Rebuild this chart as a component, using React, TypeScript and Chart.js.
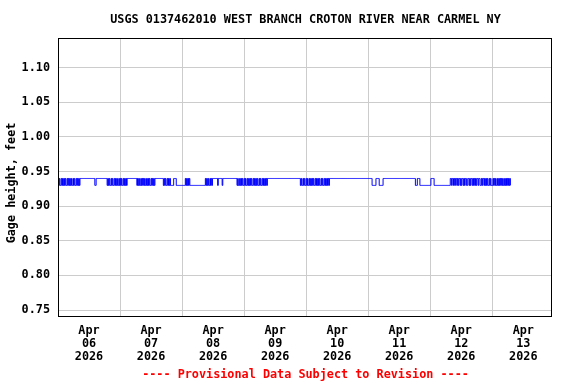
import React, { useEffect, useRef } from 'react';
import { Chart, registerables } from 'chart.js';
Chart.register(...registerables);

const TITLE = 'USGS 0137462010 WEST BRANCH CROTON RIVER NEAR CARMEL NY';
const Y_LABEL = 'Gage height, feet';
const FOOTER = '---- Provisional Data Subject to Revision ----';
const MONTH = 'Apr';
const YEAR = '2026';
const DAY_LABELS = ['06', '07', '08', '09', '10', '11', '12', '13'];
const Y_TICKS = [0.75, 0.8, 0.85, 0.9, 0.95, 1.0, 1.05, 1.1];
const Y_MIN = 0.7414;
const Y_MAX = 1.1414;
const X_MAX_HOURS = 191.1;
const HIGH = 0.94;
const LOW = 0.93;

// 15-minute gage readings per day, '4' = 0.94 ft, '3' = 0.93 ft
const day06 = '43433434' + '34343343' + '43434334' + '34334343' + '43' + '44444444' + '44444444' + '4444444' + '33' + '44444444' + '44444444' + '4' + '34343343' + '43343434' + '3343';
const day07 = '43433434' + '3434' + '44444444' + '444444' + '34343343' + '43434334' + '34343343' + '4343' + '44444444' + '44444' + '3434334' + '3434' + '33333' + '4444' + '333333333';
const day08 = '33333' + '4343434' + '33333333' + '33333333' + '33333333' + '43434334' + '3434' + '4444444' + '3' + '444444' + '3' + '44444444' + '44444444' + '444444' + '34334343433';
const day09 = '43433434' + '34343343' + '43434334' + '34334343' + '4343' + '44444444' + '44444444' + '44444444' + '44444444' + '44444444' + '44444444' + '444' + '343343433';
const day10 = '43433434' + '34343343' + '43434334' + '34334343' + '43434' + '44444444' + '44444444' + '44444444' + '44444444' + '44444444' + '44444444' + '44444444' + '444';
const day11 = '444444' + '333333' + '44444' + '333333' + '44444444' + '44444444' + '44444444' + '44444444' + '44444444' + '44444444' + '44' + '333' + '4444' + '33333333' + '33333333';
const day12 = '3' + '44444' + '33333333' + '33333333' + '33333333' + '3' + '44344343' + '44343443' + '43443434' + '43344343' + '44343434' + '34434433' + '43443434' + '34334343' + '3';
const day13 = '34343433' + '43434343' + '43343434' + '34343';

const READINGS = [day06, day07, day08, day09, day10, day11, day12, day13].join('');

const FONT = '"DejaVu Sans Mono", monospace';

export default function App() {
  const ref = useRef<HTMLCanvasElement | null>(null);
  useEffect(() => {
    if (!ref.current) return;
    const points = READINGS.split('').map((c, i) => ({ x: i * 0.25, y: c === '4' ? HIGH : LOW }));
    const xTicks: number[] = [];
    for (let h = 0; h <= 192; h += 12) xTicks.push(h);

    const textPlugin = {
      id: 'texts',
      afterDraw(chart: any) {
        const ctx = chart.ctx;
        const a = chart.chartArea;
        ctx.save();
        ctx.strokeStyle = '#000';
        ctx.lineWidth = 1;
        ctx.strokeRect(Math.round(a.left) + 0.5, Math.round(a.top) - 0.5, Math.round(a.right - a.left) - 1, Math.round(a.bottom - a.top) + 1);
        ctx.fillStyle = '#000';
        ctx.font = 'bold 11.8px ' + FONT;
        ctx.textAlign = 'center';
        ctx.textBaseline = 'middle';
        ctx.fillText(TITLE, 305.5, 20);
        ctx.save();
        ctx.translate(12, 183);
        ctx.rotate(-Math.PI / 2);
        ctx.fillText(Y_LABEL, 0, 0);
        ctx.restore();
        ctx.fillStyle = '#ff0000';
        ctx.fillText(FOOTER, 305.5, 375);
        ctx.restore();
      },
    };

    const chart = new Chart(ref.current, {
      type: 'line',
      data: {
        datasets: [
          {
            data: points,
            borderColor: '#0000ff',
            borderWidth: 1,
            pointRadius: 0,
            stepped: true,
            fill: false,
          },
        ],
      },
      options: {
        animation: false,
        responsive: false,
        events: [],
        layout: { padding: { top: 39, left: 0, right: 24, bottom: 0 } },
        plugins: { legend: { display: false }, tooltip: { enabled: false }, title: { display: false } },
        scales: {
          x: {
            type: 'linear',
            min: 0,
            max: X_MAX_HOURS,
            afterBuildTicks: (s: any) => {
              s.ticks = xTicks.filter((v) => v <= X_MAX_HOURS).map((v) => ({ value: v }));
            },
            afterFit: (s: any) => {
              s.height = 68;
            },
            border: { display: false },
            grid: {
              color: (c: any) => (c.tick && c.tick.value % 24 === 0 ? '#cccccc' : 'rgba(0,0,0,0)'),
              lineWidth: 1,
              drawTicks: false,
            },
            ticks: {
              autoSkip: false,
              maxRotation: 0,
              minRotation: 0,
              padding: 8,
              color: '#000',
              font: { family: FONT, size: 11.8, weight: 'bold', lineHeight: 1.11 },
              callback: (v: any) => {
                const h = Number(v);
                if (h % 24 !== 12) return '';
                const d = Math.floor(h / 24);
                return [MONTH, DAY_LABELS[d], YEAR];
              },
            },
          },
          y: {
            type: 'linear',
            min: Y_MIN,
            max: Y_MAX,
            afterBuildTicks: (s: any) => {
              s.ticks = Y_TICKS.map((v) => ({ value: v }));
            },
            afterFit: (s: any) => {
              s.width = 58;
            },
            border: { display: false },
            grid: { color: '#cccccc', lineWidth: 1, drawTicks: false },
            ticks: {
              padding: 8,
              color: '#000',
              font: { family: FONT, size: 11.8, weight: 'bold' },
              callback: (v: any) => Number(v).toFixed(2),
            },
          },
        },
      },
      plugins: [textPlugin],
    } as any);
    return () => chart.destroy();
  }, []);
  return (
    <div style={{ position: 'fixed', left: 0, top: 0, width: 576, height: 384, background: '#fff' }}>
      <canvas ref={ref} width={576} height={384} style={{ display: 'block' }} />
    </div>
  );
}
